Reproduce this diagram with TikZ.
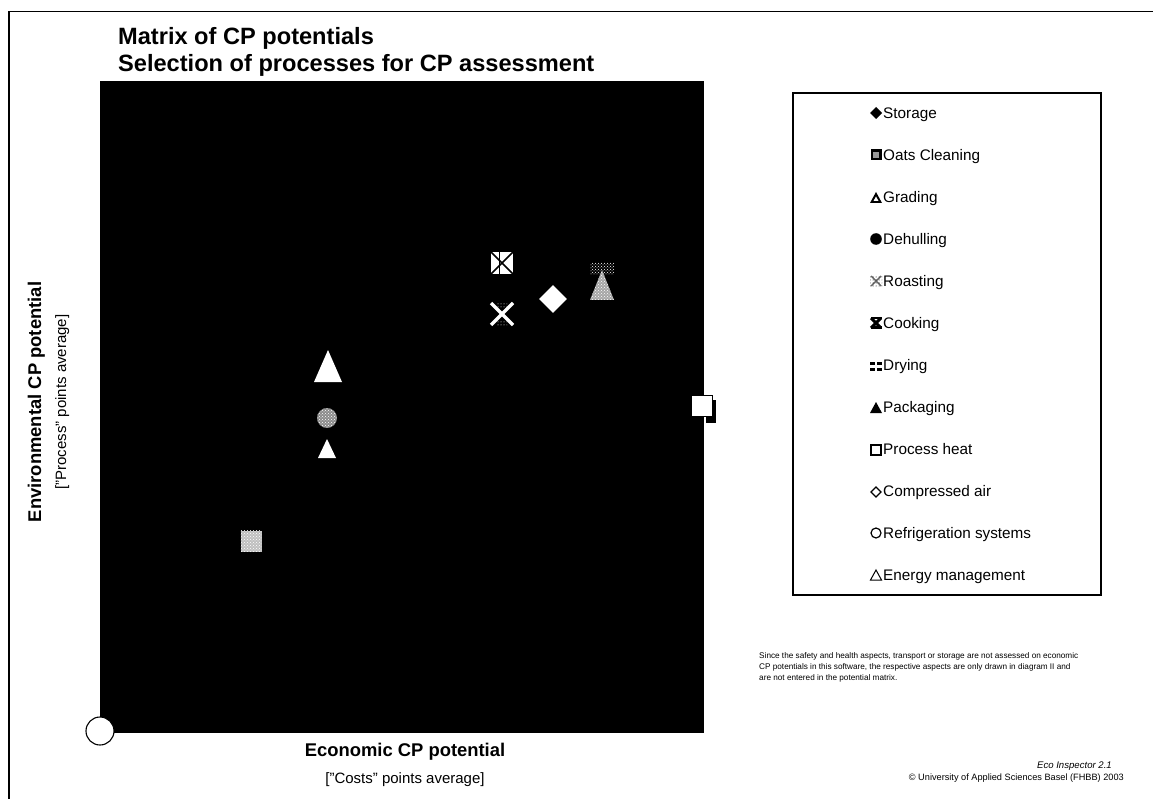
\documentclass[tikz,border=0pt]{standalone}
\usepackage{fontspec}
\setmainfont{Liberation Sans}
\usetikzlibrary{patterns,shapes.geometric}
\tikzset{
  titletext/.style={anchor=base west, inner sep=0, font=\fontsize{23.6}{26}\selectfont\bfseries},
  axistitle/.style={anchor=base, inner sep=0, font=\fontsize{18.4}{21}\selectfont\bfseries},
  axissub/.style={anchor=base, inner sep=0, font=\fontsize{15}{18}\selectfont},
  legtext/.style={anchor=base west, inner sep=0, font=\fontsize{15.3}{18}\selectfont},
  notetext/.style={anchor=base west, inner sep=0, font=\fontsize{8.2}{10}\selectfont},
  credit/.style={anchor=base east, inner sep=0, font=\fontsize{9.2}{11}\selectfont},
  legbox/.style={draw=black, line width=1.2},
  frameline/.style={line width=1.6},
  openmark/.style={draw=black, fill=white, line width=1.1},
}
\begin{document}
\begin{tikzpicture}[x=1pt,y=-1pt]
\useasboundingbox (0,0) rectangle (1153,799);
\fill[white] (0,0) rectangle (1153,799);
% page frame
\draw[frameline] (9,799) -- (9,11.5) -- (1153,11.5);
% titles
\node[titletext] (t1) at (118,45) {Matrix of CP potentials};
\node[titletext] (t2) at (118,72) {Selection of processes for CP assessment};
% plot area
\fill[black] (100,81) rectangle (704,733);
% axis titles
\node[axistitle] (xt) at (405,756) {Economic CP potential};
\node[axissub] (xs) at (405,783) {["Costs" points average]};
\node[axistitle, rotate=90] (yt) at (41,402) {Environmental CP potential};
\node[axissub, rotate=90] (ys) at (66,402) {["Process" points average]};

% ---- markers in plot ----
% Roasting: square with X
\coordinate (roast) at (502,263);
\fill[white] (roast) ++(-11,-11) rectangle ++(22,22);
\draw[black, line width=1.6] (roast) ++(-11,-11) -- ++(22,22);
\draw[black, line width=1.6] (roast) ++(11,-11) -- ++(-22,22);
\draw[black, line width=1] (roast) ++(-3,-11) -- ++(0,22);
% Cooking: white X
\coordinate (cook) at (502,314);
\draw[white, line width=3.5] (cook) ++(-11,-11) -- ++(22,22);
\draw[white, line width=3.5] (cook) ++(11,-11) -- ++(-22,22);
\fill[pattern=dots, pattern color=white] (cook) ++(-5,-12) rectangle ++(10,6);
\fill[pattern=dots, pattern color=white] (cook) ++(-5,6) rectangle ++(10,6);
% Storage: white diamond
\node[diamond, fill=white, minimum size=28, inner sep=0] (stor) at (553,299) {};
% Drying + Packaging overlap
\coordinate (dry) at (602,282);
\fill[pattern=crosshatch dots, pattern color=white] (dry) ++(-12,-19) rectangle ++(24,12);
\fill[white!65!black] (dry) ++(-12,18) -- ++(24,0) -- ++(-12,-30) -- cycle;
\fill[pattern=crosshatch dots, pattern color=white] (dry) ++(-12,18) -- ++(24,0) -- ++(-12,-30) -- cycle;
% Grading: large triangle
\coordinate (grad) at (328,366);
\fill[white] (grad) ++(-14,16) -- ++(28,0) -- ++(-14,-32) -- cycle;
% Dehulling: dotted circle
\node[circle, minimum size=20, inner sep=0, fill=white!55!black] (dehull) at (327,418) {};
\fill[pattern=crosshatch dots, pattern color=white] (dehull) circle (10);
% Packaging: small triangle
\coordinate (pack) at (327,448);
\fill[white] (pack) ++(-9,10) -- ++(18,0) -- ++(-9,-19) -- cycle;
% Oats cleaning: dotted square
\node[rectangle, minimum size=21, inner sep=0, fill=white!75!black] (oats) at (251,541) {};
\fill[pattern=crosshatch dots, pattern color=white] (oats.north west) rectangle (oats.south east);
% Process heat: open square with shadow
\fill[black] (706,400) rectangle (716,423);
\node[rectangle, openmark, minimum size=21, inner sep=0] (heat) at (702,406) {};
% Refrigeration: open circle at origin
\node[circle, openmark, minimum size=28, inner sep=0] (refr) at (100,731) {};

% ---- legend ----
\draw[legbox] (793,93) rectangle (1101,595);
\foreach \i/\lab in {0/Storage,1/Oats Cleaning,2/Grading,3/Dehulling,4/Roasting,5/Cooking,6/Drying,7/Packaging,8/Process heat,9/Compressed air,10/Refrigeration systems,11/Energy management}{
  \node[legtext] (leg\i) at (883,{113+42*\i+5.5}) {\lab};
}
% legend markers (centre x = 876)
\begin{scope}[shift={(876,0)}]
% Storage
\fill[black] (0,107) -- (6,113) -- (0,119) -- (-6,113) -- cycle;
% Oats Cleaning
\fill[black] (-5.5,149.5) rectangle (5.5,160.5);
\fill[white!60!black] (-3,152) rectangle (3,158);
% Grading
\fill[black] (-6,203) -- (6,203) -- (0,192) -- cycle;
\fill[white] (-2.5,201) -- (2.5,201) -- (0,196.5) -- cycle;
% Dehulling
\fill[black] (0,239) circle (5.8);
% Roasting
\draw[white!40!black, line width=1.4] (-5,276) -- (5,286) (5,276) -- (-5,286);
\fill[pattern=dots, pattern color=black] (-6,275) rectangle (6,287);
% Cooking
\draw[black, line width=3] (-5,318) -- (5,328) (5,318) -- (-5,328);
\fill[black] (-5.5,317) rectangle (5.5,319.5);
\fill[black] (-5.5,326.5) rectangle (5.5,329);
% Drying
\fill[black] (-6,362) rectangle (-1,365);
\fill[black] (1,362) rectangle (6,365);
\fill[black] (-6,368) rectangle (-1,371);
\fill[black] (1,368) rectangle (6,371);
% Packaging
\fill[black] (-6,413) -- (6,413) -- (0,402) -- cycle;
% Process heat
\draw[black, line width=1.2] (-5,445) rectangle (5,455);
% Compressed air
\draw[black, line width=1.3] (0,487) -- (5,492) -- (0,497) -- (-5,492) -- cycle;
% Refrigeration systems
\draw[black, line width=1.2] (0,533) circle (5);
% Energy management
\draw[black, line width=1] (-5.5,580) -- (5.5,580) -- (0,570) -- cycle;
\end{scope}

% ---- notes ----
\node[notetext] (n1) at (759,658) {Since the safety and health aspects, transport or storage are not assessed on economic};
\node[notetext] (n2) at (759,669) {CP potentials in this software, the respective aspects are only drawn in diagram II and};
\node[notetext] (n3) at (759,680) {are not entered in the potential matrix.};
\node[credit, font=\fontsize{9.6}{11}\selectfont\itshape] (eco) at (1112,768) {Eco Inspector 2.1};
\node[credit] (univ) at (1124,780) {© University of Applied Sciences Basel (FHBB) 2003};
\end{tikzpicture}
\end{document}
